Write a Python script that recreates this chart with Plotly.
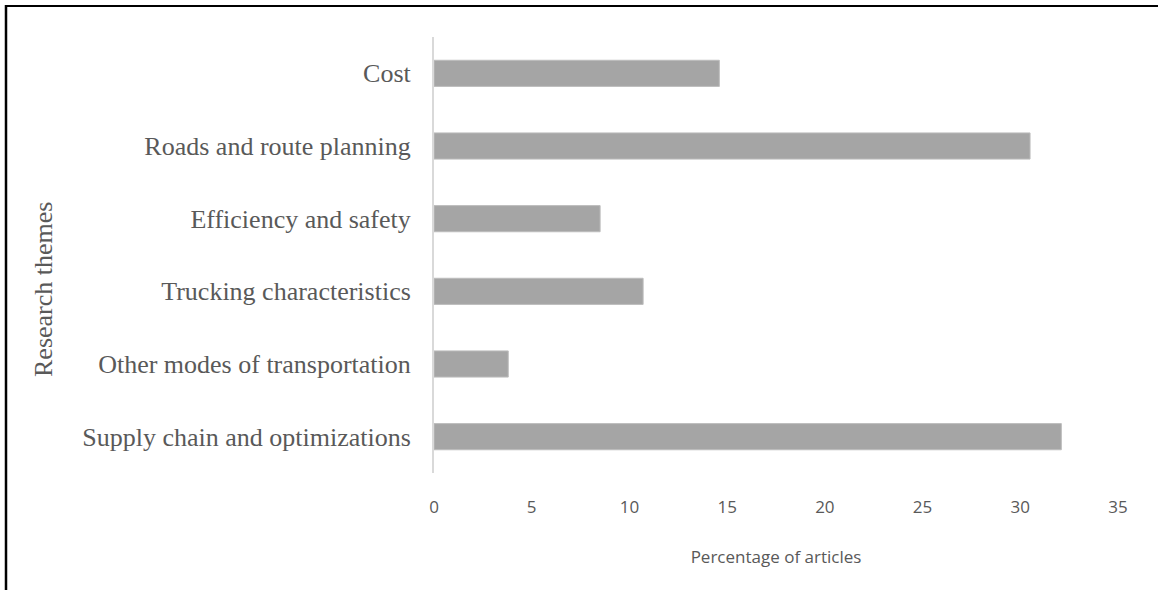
import plotly.graph_objects as go

# Research themes and share of articles (%)
themes = [
    "Cost",
    "Roads and route planning",
    "Efficiency and safety",
    "Trucking characteristics",
    "Other modes of transportation",
    "Supply chain and optimizations",
]
percentages = [14.6, 30.5, 8.5, 10.7, 3.8, 32.1]
x_ticks = [0, 5, 10, 15, 20, 25, 30, 35]

W, H = 1158, 590
L, R, T, B = 434, 40, 37, 117
pw, ph = W - L - R, H - T - B


def px_x(p):
    return (p - L) / pw


def px_y(p):
    return (H - B - p) / ph


fig = go.Figure(
    go.Bar(
        x=percentages,
        y=themes,
        orientation="h",
        marker=dict(color="#a5a5a5", line=dict(color="#bdbdbd", width=1)),
        width=0.36,
    )
)

fig.update_layout(
    width=W,
    height=H,
    margin=dict(l=L, r=R, t=T, b=B),
    paper_bgcolor="white",
    plot_bgcolor="white",
    showlegend=False,
    xaxis=dict(
        range=[0, 35],
        tickvals=x_ticks,
        showgrid=False,
        zeroline=False,
        showline=False,
        ticks="",
        ticklabelstandoff=22,
        tickfont=dict(family="Open Sans", size=17, color="#595959"),
        title=dict(
            text="Percentage of articles",
            font=dict(family="Open Sans", size=17, color="#595959"),
            standoff=34,
        ),
    ),
    yaxis=dict(
        categoryorder="array",
        categoryarray=themes,
        autorange="reversed",
        showgrid=False,
        zeroline=False,
        showline=True,
        linecolor="#d9d9d9",
        linewidth=2,
        ticks="",
        ticklabelstandoff=16,
        tickfont=dict(family="Liberation Serif", size=26, color="#595959"),
    ),
    shapes=[
        # outer frame: top and left edges
        dict(type="line", xref="paper", yref="paper",
             x0=px_x(5), x1=px_x(W), y0=px_y(6), y1=px_y(6),
             line=dict(color="black", width=2)),
        dict(type="line", xref="paper", yref="paper",
             x0=px_x(6), x1=px_x(6), y0=px_y(5), y1=px_y(H),
             line=dict(color="black", width=2.5)),
    ],
    annotations=[
        dict(
            text="Research themes",
            xref="paper", yref="paper",
            x=px_x(43), y=px_y(290),
            xanchor="center", yanchor="middle",
            showarrow=False,
            textangle=-90,
            font=dict(family="Liberation Serif", size=26, color="#595959"),
        )
    ],
)

fig.write_html("out.html")
